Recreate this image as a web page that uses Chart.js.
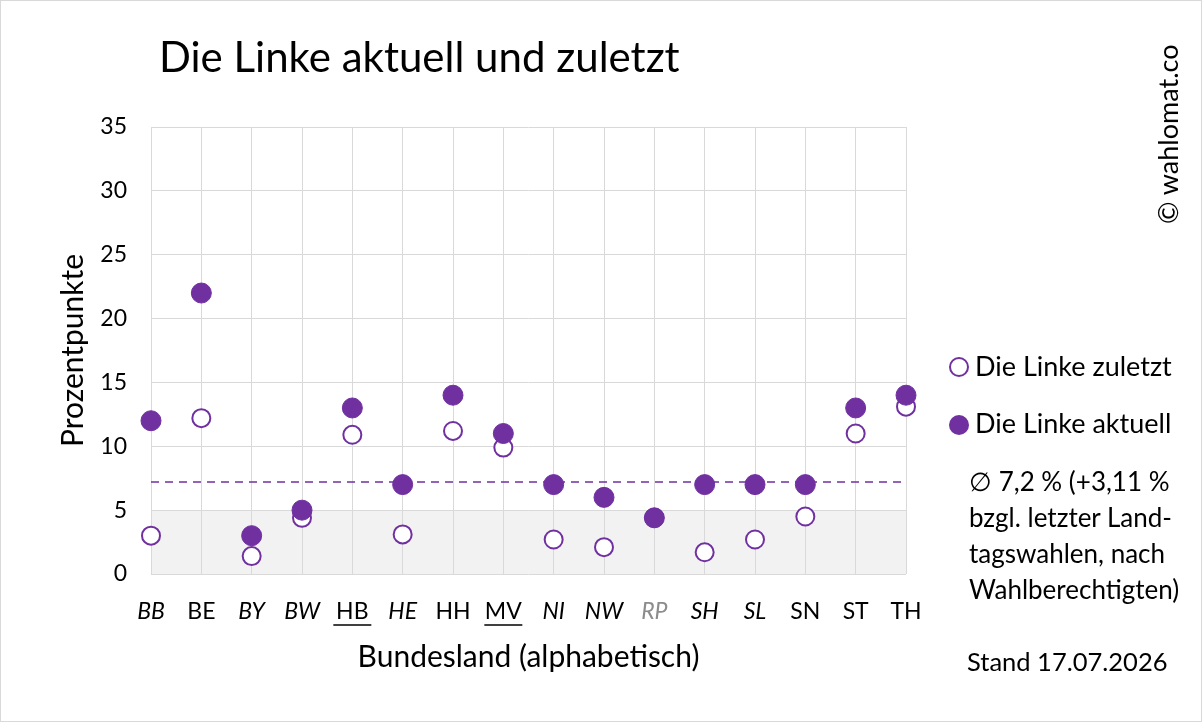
<!DOCTYPE html>
<html><head><meta charset="utf-8">
<script src="https://cdn.jsdelivr.net/npm/chart.js@4"></script>
<style>
  body { margin:0; background:#fff; font-family:Lato, "Open Sans", sans-serif; }
  #wrap { position:relative; width:1202px; height:722px; box-sizing:border-box; border:1px solid #d9d9d9; }
  canvas { position:absolute; left:0; top:0; }
  .t { position:absolute; color:#000; white-space:nowrap; }
</style></head>
<body>
<div id="wrap">
  <canvas id="c" width="1202" height="722"></canvas>
  <div class="t" style="left:158px;top:30px;font-size:42px;">Die Linke aktuell und zuletzt</div>
  <div class="t" style="left:1150px;top:25px;font-size:27px;transform-origin:left top;transform:rotate(-90deg) translate(-198px,0);">© wahlomat.co</div>
  <div class="t" style="left:948px;top:348px;font-size:27px;"><span style="display:inline-block;width:16px;height:16px;border:2px solid #7030A0;border-radius:50%;vertical-align:-1px;margin-right:6px;"></span>Die Linke zuletzt</div>
  <div class="t" style="left:948px;top:405px;font-size:27px;"><span style="display:inline-block;width:20px;height:20px;background:#7030A0;border-radius:50%;vertical-align:-2px;margin-right:6px;"></span>Die Linke aktuell</div>
  <div class="t" style="left:968px;top:462px;font-size:26px;line-height:36px;">∅ 7,2 % (+3,11 %<br>bzgl. letzter Land-<br>tagswahlen, nach<br>Wahlberechtigten)</div>
  <div class="t" style="left:966px;top:645px;font-size:25.5px;">Stand 17.07.2026</div>
</div>
<script>
/* ── Data ── */
const laender  = ['BB','BE','BY','BW','HB','HE','HH','MV','NI','NW','RP','SH','SL','SN','ST','TH'];
const zuletzt  = [3.0, 12.2, 1.4, 4.4, 10.9, 3.1, 11.2, 9.9, 2.7, 2.1, 4.4, 1.7, 2.7, 4.5, 11.0, 13.1];
const aktuell  = [12.0, 22.0, 3.0, 5.0, 13.0, 7.0, 14.0, 11.0, 7.0, 6.0, 4.4, 7.0, 7.0, 7.0, 13.0, 14.0];
const schnitt  = 7.2;
const yTicks   = [0, 5, 10, 15, 20, 25, 30, 35];
const italic   = ['BB','BY','BW','HE','NI','NW','RP','SH','SL'];
const underlined = ['HB','MV'];
const grey     = ['RP'];

const PURPLE = '#7030A0';

/* ── Plugins ── */
const band = {
  id: 'band',
  beforeDraw(chart) {
    const { ctx, chartArea: a, scales: { y } } = chart;
    ctx.save(); ctx.fillStyle = '#f2f2f2';
    ctx.fillRect(a.left, y.getPixelForValue(5), a.right - a.left, y.getPixelForValue(0) - y.getPixelForValue(5));
    ctx.restore();
  }
};
const underline = {
  id: 'underline',
  afterDraw(chart) {
    const { ctx, scales: { x } } = chart;
    ctx.save(); ctx.strokeStyle = '#000'; ctx.lineWidth = 1.5;
    laender.forEach((l, i) => {
      if (!underlined.includes(l)) return;
      const px = x.getPixelForValue(i);
      ctx.beginPath(); ctx.moveTo(px - 19, 624); ctx.lineTo(px + 19, 624); ctx.stroke();
    });
    ctx.restore();
  }
};

new Chart(document.getElementById('c'), {
  data: {
    labels: laender,
    datasets: [
      { type: 'line', data: laender.map(() => schnitt), borderColor: PURPLE, borderWidth: 1.5, borderDash: [8, 6], pointRadius: 0, order: 3 },
      { type: 'scatter', data: zuletzt, backgroundColor: '#fff', borderColor: PURPLE, borderWidth: 2, pointRadius: 9, order: 2 },
      { type: 'scatter', data: aktuell, backgroundColor: PURPLE, borderColor: PURPLE, pointRadius: 10, order: 1 }
    ]
  },
  options: {
    responsive: false, animation: false,
    layout: { padding: { left: 50, right: 297, top: 126, bottom: 44 } },
    plugins: { legend: { display: false }, tooltip: { enabled: false } },
    scales: {
      x: {
        type: 'category', offset: false,
        afterFit: s => { s.height = 105; },
        grid: { color: '#d9d9d9', drawTicks: false },
        border: { display: false },
        ticks: {
          padding: 24, color: c => grey.includes(laender[c.index]) ? '#8c8c8c' : '#000',
          font: c => ({ family: 'Lato', size: 23, style: italic.includes(laender[c.index]) ? 'italic' : 'normal' })
        },
        title: { display: true, text: 'Bundesland (alphabetisch)', color: '#000', font: { family: 'Lato', size: 30 }, padding: { top: 6 } }
      },
      y: {
        min: 0, max: 35,
        afterFit: s => { s.width = 100; },
        afterBuildTicks: s => { s.ticks = yTicks.map(v => ({ value: v })); },
        grid: { color: '#d9d9d9', drawTicks: false },
        border: { display: false },
        ticks: { padding: 24, color: '#000', font: { family: 'Lato', size: 23 } },
        title: { display: true, text: 'Prozentpunkte', color: '#000', font: { family: 'Lato', size: 30 } }
      }
    }
  },
  plugins: [band, underline]
});
</script>
</body></html>
